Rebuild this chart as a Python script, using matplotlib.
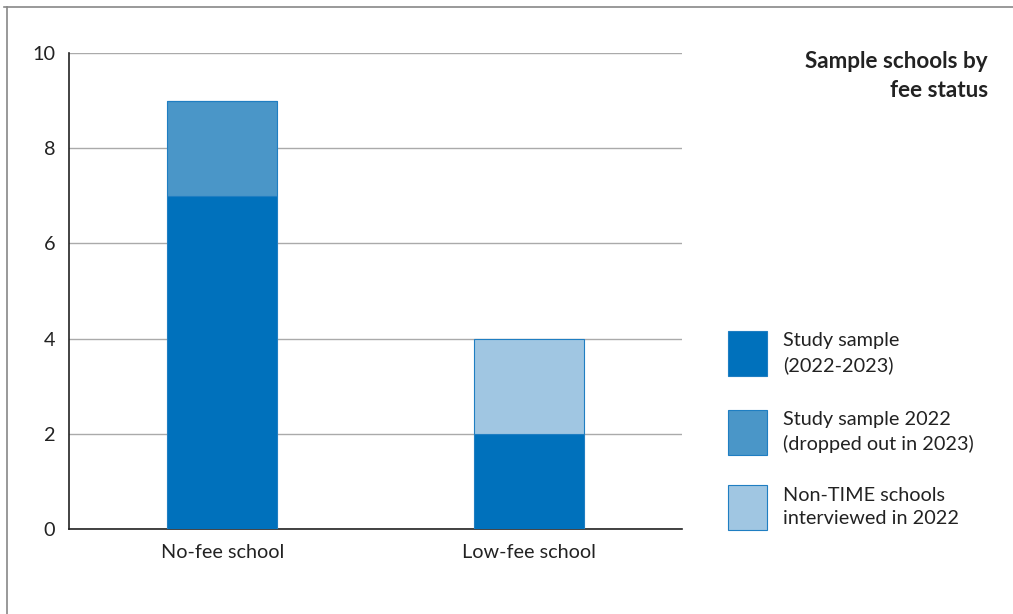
import matplotlib
matplotlib.use("Agg")
import matplotlib.pyplot as plt
from matplotlib.lines import Line2D
from matplotlib.patches import Rectangle

plt.rcParams['font.family'] = ['Lato', 'DejaVu Sans']

categories = ["No-fee school", "Low-fee school"]
study_sample = [7, 2]
dropped_out = [2, 0]
non_time = [0, 2]
series_labels = ["Study sample\n(2022-2023)",
                 "Study sample 2022\n(dropped out in 2023)",
                 "Non-TIME schools\ninterviewed in 2022"]
colors = ["#0071BC", "#4A96C8", "#A0C6E2"]
yticks = [0, 2, 4, 6, 8, 10]
title = "Sample schools by\nfee status"

W, H = 1013, 614
fig = plt.figure(figsize=(W / 100, H / 100), dpi=100)
ax = fig.add_axes([69 / W, 1 - 529 / H, (682 - 69) / W, (529 - 53) / H])

x = list(range(len(categories)))
bw = 0.36
bottoms = [0] * len(categories)
for vals, col, lab in zip([study_sample, dropped_out, non_time], colors, series_labels):
    ax.bar(x, vals, width=bw, bottom=bottoms, color=col, edgecolor="#1F7EC2",
           linewidth=0.8, zorder=3, label=lab)
    bottoms = [b + v for b, v in zip(bottoms, vals)]

ax.set_xlim(-0.5, 1.5)
ax.set_ylim(0, 10)
ax.set_yticks(yticks)
ax.set_xticks(x)
ax.set_xticklabels(categories)
ax.tick_params(axis='both', length=0, labelsize=14.3, colors="#222222")
ax.tick_params(axis='y', pad=10)
ax.tick_params(axis='x', pad=11)
ax.yaxis.grid(True, color="#AAAAAA", linewidth=1)
ax.set_axisbelow(True)
for s in ["top", "right"]:
    ax.spines[s].set_visible(False)
for s in ["left", "bottom"]:
    ax.spines[s].set_color("#222222")
    ax.spines[s].set_linewidth(1.2)

# Title
fig.text(988 / W, 1 - 51 / H, title, ha="right", va="top", fontsize=16.2,
         fontweight="bold", color="#222222", linespacing=1.45)

# Legend (manual)
legend_tops = [331, 410, 485]
for top, col, lab in zip(legend_tops, colors, series_labels):
    fig.patches.append(Rectangle((728 / W, 1 - (top + 45) / H), 39 / W, 45 / H,
                                 transform=fig.transFigure, facecolor=col,
                                 edgecolor="#1F7EC2", linewidth=0.8))
    fig.text(783 / W, 1 - (top + 22) / H, lab, ha="left", va="center",
             fontsize=14.3, color="#222222", linespacing=1.45)

# Outer frame
fig.add_artist(Line2D([4 / W, 1], [1 - 7 / H, 1 - 7 / H], transform=fig.transFigure,
                      color="#888888", linewidth=1.2))
fig.add_artist(Line2D([7 / W, 7 / W], [0, 1 - 7 / H], transform=fig.transFigure,
                      color="#888888", linewidth=1.2))

fig.savefig("out.png", dpi=100)
